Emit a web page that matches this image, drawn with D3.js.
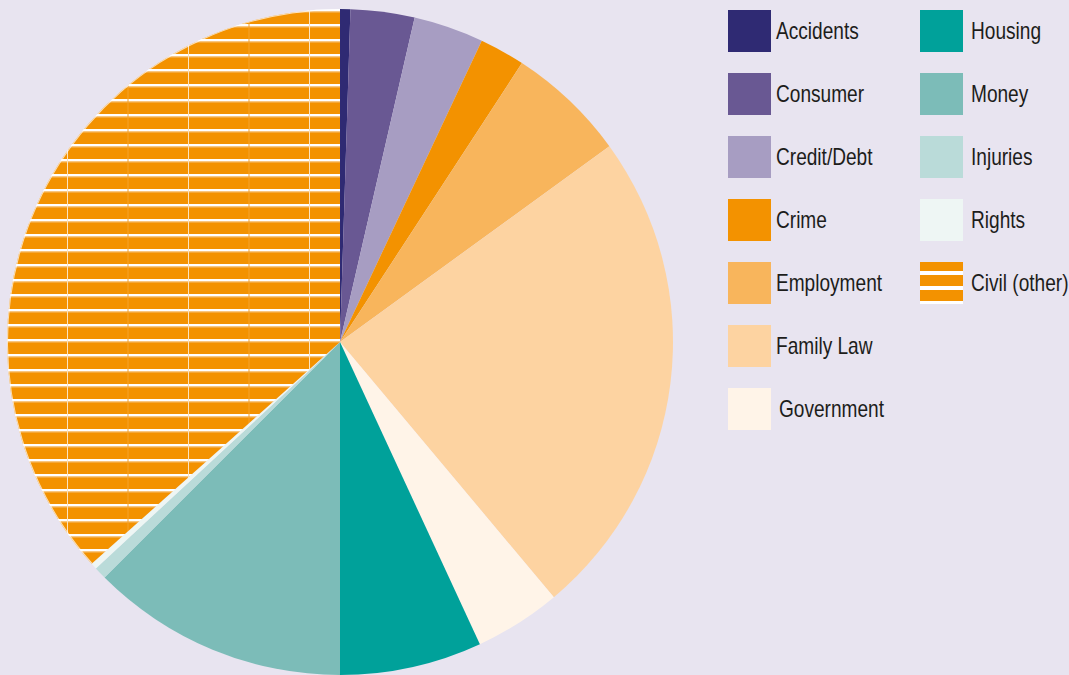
<!DOCTYPE html>
<html>
<head>
<meta charset="utf-8">
<script src="https://cdn.jsdelivr.net/npm/d3@7"></script>
<style>
  body { margin: 0; background: #e8e4f0; }
  svg { display: block; }
  .legendText { font-family: "Liberation Sans", Arial, sans-serif; font-size: 23px; fill: #1d1d1b; }
</style>
</head>
<body>
<script>
// Data
var categories = ["Accidents", "Consumer", "Credit/Debt", "Crime", "Employment", "Family Law",
    "Government", "Housing", "Money", "Injuries", "Rights", "Civil (other)"];
var shares = [0.5, 3.1, 3.4, 2.2, 5.8, 23.9, 4.2, 6.9, 12.5, 0.6, 0.3, 36.6];
var colours = ["#2f2a73", "#695893", "#a79dc2", "#f39200", "#f8b55c", "#fdd3a1",
    "#fff4e8", "#00a19a", "#7cbcb8", "#badbd9", "#eef6f4", "url(#civilStripes)"];

var legendCol1 = ["Accidents", "Consumer", "Credit/Debt", "Crime", "Employment", "Family Law", "Government"];
var legendCol2 = ["Housing", "Money", "Injuries", "Rights", "Civil (other)"];

// SVG dimensions
var svgWidth = 1069;
var svgHeight = 675;

var svg = d3.select("body")
    .append("svg")
    .attr("width", svgWidth)
    .attr("height", svgHeight);

svg.append("rect")
    .attr("width", svgWidth)
    .attr("height", svgHeight)
    .attr("fill", "#e8e4f0");

// Pie position
var cx = 340, cy = 342, radius = 333;

// Stripe patterns for Civil (other) - pattern space is the pie group's space
var defs = svg.append("defs");

var pat = defs.append("pattern")
    .attr("id", "civilStripes")
    .attr("patternUnits", "userSpaceOnUse")
    .attr("x", 67 - cx)
    .attr("y", 9 - cy)
    .attr("width", 121)
    .attr("height", 15);
pat.append("rect").attr("width", 121).attr("height", 15).attr("fill", "#f39200");
pat.append("rect").attr("y", 0).attr("width", 121).attr("height", 2.6).attr("fill", "#ffffff");
pat.append("rect").attr("y", 2.6).attr("width", 121).attr("height", 1).attr("fill", "#f7b55a");
pat.append("rect").attr("x", 0).attr("width", 1).attr("height", 15).attr("fill", "#fbe3c0");
pat.append("rect").attr("x", 60.5).attr("width", 1).attr("height", 15).attr("fill", "#f5a22a");

var legPat = defs.append("pattern")
    .attr("id", "legendStripes")
    .attr("patternUnits", "userSpaceOnUse")
    .attr("x", 0)
    .attr("y", 264)
    .attr("width", 50)
    .attr("height", 15);
legPat.append("rect").attr("width", 50).attr("height", 15).attr("fill", "#f39200");
legPat.append("rect").attr("width", 50).attr("height", 4).attr("fill", "#ffffff");

// Pie
var pie = d3.pie()
    .sort(null)
    .value(d => d);

var arc = d3.arc()
    .innerRadius(0)
    .outerRadius(radius);

var pieGroup = svg.append("g")
    .attr("transform", `translate(${cx}, ${cy})`);

pieGroup.selectAll("path")
    .data(pie(shares))
    .enter()
    .append("path")
    .attr("d", arc)
    .attr("fill", (d, i) => colours[i]);

// thin white rim on the striped slice
var civil = pie(shares)[shares.length - 1];
pieGroup.append("path")
    .attr("d", d3.arc().innerRadius(radius - 1).outerRadius(radius)(civil))
    .attr("fill", "#ffffff")
    .attr("opacity", 0.7);

// Legend
var colour = d3.scaleOrdinal()
    .domain(categories)
    .range(colours.map(c => c === "url(#civilStripes)" ? "url(#legendStripes)" : c));

var rowY = d3.scaleLinear().domain([0, 1]).range([10, 73]);

function drawLegend(names, x, textX) {
    var g = svg.append("g");
    var rows = g.selectAll("g")
        .data(names)
        .enter()
        .append("g")
        .attr("transform", (d, i) => `translate(0, ${rowY(i)})`);
    rows.append("rect")
        .attr("x", x)
        .attr("y", 0)
        .attr("width", 43)
        .attr("height", 42)
        .attr("fill", d => colour(d));
    // condensed look: squeeze the text horizontally
    rows.append("text")
        .attr("class", "legendText")
        .attr("transform", d => `translate(${d === "Government" ? textX + 3 : textX}, 21) scale(0.83, 1)`)
        .attr("dy", "0.35em")
        .text(d => d);
}

drawLegend(legendCol1, 728, 776);
drawLegend(legendCol2, 920, 971);
</script>
</body>
</html>
